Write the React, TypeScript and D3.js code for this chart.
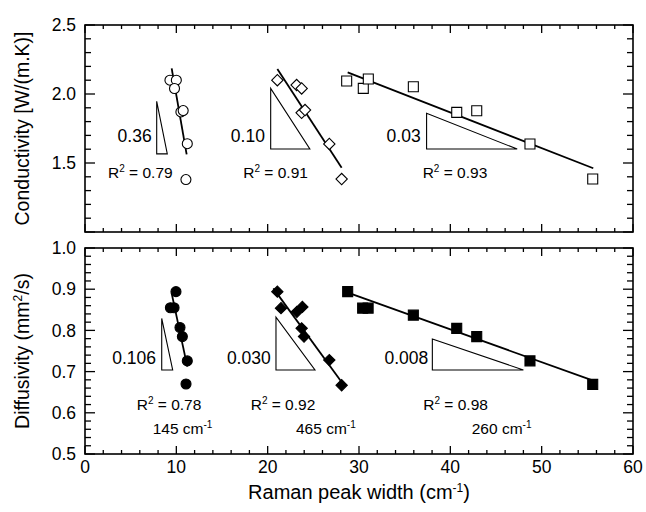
import React from 'react'
import * as d3 from 'd3'

// conductivity panel (open markers)
const condCircX = [9.3, 10.0, 9.8, 10.5, 10.75, 11.2, 11.05]
const condCircY = [2.10, 2.10, 2.04, 1.87, 1.88, 1.64, 1.38]
const condDiaX = [21.06, 23.17, 23.72, 23.72, 24.09, 26.75, 28.1]
const condDiaY = [2.10, 2.065, 2.04, 1.864, 1.884, 1.638, 1.384]
const condSqX = [28.65, 30.47, 31.02, 35.95, 40.7, 42.89, 48.72, 55.59]
const condSqY = [2.094, 2.041, 2.109, 2.053, 1.867, 1.879, 1.638, 1.384]

// diffusivity panel (filled markers)
const diffCircX = [9.96, 9.35, 9.75, 10.4, 10.66, 11.2, 11.06]
const diffCircY = [0.894, 0.855, 0.855, 0.807, 0.785, 0.726, 0.670]
const diffDiaX = [21.06, 21.46, 23.2, 23.8, 23.72, 23.98, 26.75, 28.1]
const diffDiaY = [0.894, 0.854, 0.845, 0.857, 0.805, 0.785, 0.728, 0.667]
const diffSqX = [28.76, 30.4, 31.0, 35.95, 40.7, 42.89, 48.72, 55.59]
const diffSqY = [0.894, 0.854, 0.854, 0.837, 0.805, 0.785, 0.726, 0.669]

// fit lines [x0, y0, x1, y1]
const condFits = [[9.49, 2.186, 11.13, 1.562], [21.06, 2.181, 28.1, 1.466], [28.76, 2.157, 55.65, 1.462]]
const diffFits = [[9.49, 0.89, 11.2, 0.712], [20.62, 0.902, 28.47, 0.663], [28.47, 0.894, 56.02, 0.675]]

// slope triangles [x, yTop, yBottom, xRight]
const condTri = [[7.85, 1.947, 1.566, 9.01], [20.33, 2.041, 1.601, 24.62], [37.4, 1.86, 1.601, 47.32]]
const diffTri = [[8.40, 0.829, 0.704, 9.60], [20.91, 0.832, 0.704, 25.18], [38.03, 0.779, 0.704, 48.0]]

const condSlopes = ['0.36', '0.10', '0.03']
const condSlopeX = [7.3, 19.7, 36.75]
const condR2 = ['0.79', '0.91', '0.93']
const condR2X = [2.52, 17.33, 36.97]

const diffSlopes = ['0.106', '0.030', '0.008']
const diffSlopeX = [7.77, 20.33, 37.58]
const diffR2 = ['0.78', '0.92', '0.98']
const diffR2X = [5.66, 18.14, 37.04]
const modes = ['145', '465', '260']
const modeX = [7.41, 23.1, 42.34]

const xTicks = [0, 10, 20, 30, 40, 50, 60]
const condTicks = [1.5, 2.0, 2.5]
const diffTicks = [0.5, 0.6, 0.7, 0.8, 0.9, 1.0]

const W = 646, H = 512
const font = 'Liberation Sans, Arial, sans-serif'

const x = d3.scaleLinear().domain([0, 60]).range([85, 633])
const yTop = d3.scaleLinear().domain([1.0, 2.5]).range([232, 25])
const yBot = d3.scaleLinear().domain([0.5, 1.0]).range([454, 248])

const sq = d3.symbol().type(d3.symbolSquare).size(100)()
const dia = d3.symbol().type(d3.symbolSquare).size(64)()

function Frame({ y, minor, major }: any) {
  const [y0, y1] = y.range()
  const x0 = 85, x1 = 633
  const items: any[] = []
  d3.range(0, 60.001, 2).forEach((v, i) => {
    const big = Math.abs(v % 10) < 1e-6
    const len = big ? 8 : 4
    items.push(<line key={'xt' + i} x1={x(v)} x2={x(v)} y1={y1} y2={y1 + len} />)
    items.push(<line key={'xb' + i} x1={x(v)} x2={x(v)} y1={y0} y2={y0 - len} />)
  })
  const [d0, d1] = y.domain()
  const n = Math.round((d1 - d0) / minor)
  for (let i = 0; i <= n; i++) {
    const v = d0 + i * minor
    const big = Math.abs(Math.round(v / major) * major - v) < 1e-6
    const len = big ? 10 : 6
    items.push(<line key={'yl' + i} x1={x0} x2={x0 + len} y1={y(v)} y2={y(v)} />)
    items.push(<line key={'yr' + i} x1={x1} x2={x1 - len} y1={y(v)} y2={y(v)} />)
  }
  return (
    <g stroke="#000" strokeWidth={1.3}>
      {items}
      <rect x={x0} y={y1} width={x1 - x0} height={y0 - y1} fill="none" strokeWidth={1.6} />
    </g>
  )
}

function R2({ px, py, val }: any) {
  return (
    <text x={px} y={py} dy="0.35em" fontSize={15.5}>
      R<tspan dy={-6} fontSize={10}>2</tspan><tspan dy={6}> = {val}</tspan>
    </text>
  )
}

function Panel({ y, cx, cy, dx, dy, sx, sy, filled, fits, tris, slopes, slopeX, r2, r2X, slopeY, r2Y }: any) {
  const fill = filled ? '#000' : '#fff'
  return (
    <g>
      {fits.map((f: number[], i: number) => (
        <line key={'f' + i} x1={x(f[0])} y1={y(f[1])} x2={x(f[2])} y2={y(f[3])} stroke="#000" strokeWidth={1.8} />
      ))}
      {tris.map((t: number[], i: number) => (
        <path key={'t' + i} d={`M${x(t[0])},${y(t[1])}L${x(t[0])},${y(t[2])}L${x(t[3])},${y(t[2])}Z`} fill="none" stroke="#000" strokeWidth={1.1} />
      ))}
      {cx.map((v: number, i: number) => (
        <circle key={'c' + i} cx={x(v)} cy={y(cy[i])} r={5} fill={fill} stroke="#000" strokeWidth={1.1} />
      ))}
      {dx.map((v: number, i: number) => (
        <path key={'d' + i} d={dia} transform={`translate(${x(v)},${y(dy[i])}) rotate(45)`} fill={fill} stroke="#000" strokeWidth={1.1} />
      ))}
      {sx.map((v: number, i: number) => (
        <path key={'s' + i} d={sq} transform={`translate(${x(v)},${y(sy[i])})`} fill={fill} stroke="#000" strokeWidth={1.1} />
      ))}
      {slopes.map((s: string, i: number) => (
        <text key={'sl' + i} x={x(slopeX[i])} y={y(slopeY)} dy="0.35em" textAnchor="end" fontSize={17.5}>{s}</text>
      ))}
      {r2.map((s: string, i: number) => (
        <R2 key={'r' + i} px={x(r2X[i])} py={y(r2Y)} val={s} />
      ))}
    </g>
  )
}

export default function App() {
  return (
    <svg width={W} height={H} style={{ position: 'absolute', left: 0, top: 0, background: '#fff' }} fontFamily={font}>
      <Frame y={yTop} minor={0.1} major={0.5} />
      <Frame y={yBot} minor={0.02} major={0.1} />
      <Panel y={yTop} cx={condCircX} cy={condCircY} dx={condDiaX} dy={condDiaY} sx={condSqX} sy={condSqY}
        filled={false} fits={condFits} tris={condTri} slopes={condSlopes} slopeX={condSlopeX}
        r2={condR2} r2X={condR2X} slopeY={1.696} r2Y={1.428} />
      <Panel y={yBot} cx={diffCircX} cy={diffCircY} dx={diffDiaX} dy={diffDiaY} sx={diffSqX} sy={diffSqY}
        filled={true} fits={diffFits} tris={diffTri} slopes={diffSlopes} slopeX={diffSlopeX}
        r2={diffR2} r2X={diffR2X} slopeY={0.734} r2Y={0.621} />
      {modes.map((m, i) => (
        <text key={'m' + i} x={x(modeX[i])} y={yBot(0.561)} dy="0.35em" fontSize={15.5}>
          {m} cm<tspan dy={-6} fontSize={10}>-1</tspan>
        </text>
      ))}
      {condTicks.map(v => (
        <text key={'ct' + v} x={76} y={yTop(v)} dy="0.35em" textAnchor="end" fontSize={17.5}>{d3.format('.1f')(v)}</text>
      ))}
      {diffTicks.map(v => (
        <text key={'dt' + v} x={76} y={yBot(v)} dy="0.35em" textAnchor="end" fontSize={17.5}>{d3.format('.1f')(v)}</text>
      ))}
      {xTicks.map(v => (
        <text key={'xt' + v} x={x(v)} y={467} dy="0.35em" textAnchor="middle" fontSize={17.5}>{v}</text>
      ))}
      <text x={359} y={492} dy="0.35em" textAnchor="middle" fontSize={20}>
        Raman peak width (cm<tspan dy={-7} fontSize={12}>-1</tspan><tspan dy={7}>)</tspan>
      </text>
      <text transform={`translate(22,${(yTop.range()[0] + yTop.range()[1]) / 2}) rotate(-90)`} dy="0.35em" textAnchor="middle" fontSize={19.5}>
        Conductivity [W/(m.K)]
      </text>
      <text transform={`translate(22,${(yBot.range()[0] + yBot.range()[1]) / 2}) rotate(-90)`} dy="0.35em" textAnchor="middle" fontSize={19.5}>
        Diffusivity (mm<tspan dy={-7} fontSize={12}>2</tspan><tspan dy={7}>/s)</tspan>
      </text>
    </svg>
  )
}
